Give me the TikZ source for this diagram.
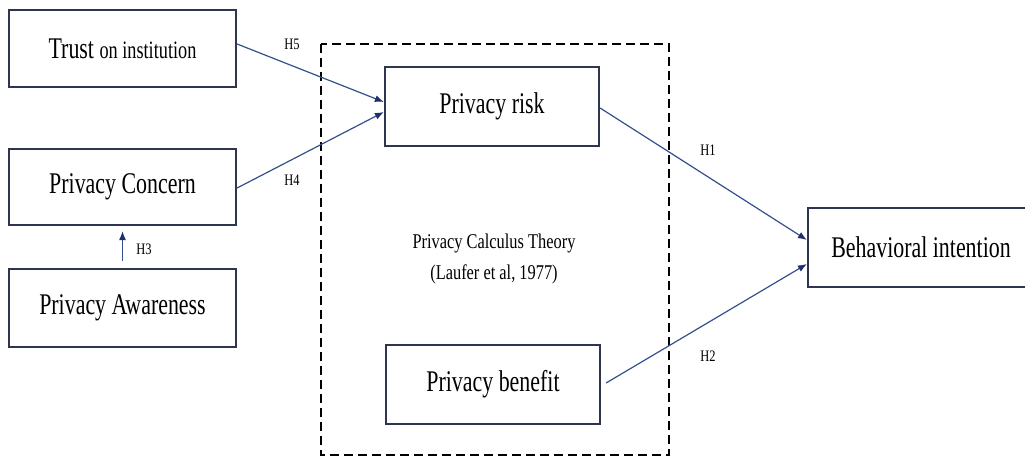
\documentclass[tikz,border=0pt]{standalone}
\usepackage{fontspec}
\setmainfont{Liberation Serif}
\newfontfamily\boxfont[FakeStretch=0.73]{Liberation Serif}
\newfontfamily\smallfont[FakeStretch=0.78]{Liberation Serif}
\usetikzlibrary{arrows.meta,calc}
\definecolor{boxline}{HTML}{2E3550}
\definecolor{arrline}{HTML}{34508C}
\definecolor{arrtip}{HTML}{1C2F6E}
\tikzset{
  conbox/.style={draw=boxline, line width=2.2pt, fill=white, inner sep=0pt,
    font=\boxfont\fontsize{30}{32}\selectfont},
  conarrow/.style={draw=arrline, line width=1.2pt,
    -{Latex[length=9pt,width=7pt,color=arrtip]}},
  hlabel/.style={font=\smallfont\fontsize{16}{18}\selectfont, inner sep=0pt},
  theorybox/.style={draw=black, line width=2.5pt, dash pattern=on 9pt off 5pt}
}
\begin{document}
\begin{tikzpicture}[x=1pt,y=-1pt]
\useasboundingbox (0,0) rectangle (1025,457);
% dashed theory frame
\draw[theorybox] (321,44) rectangle (669,455);
% boxes
\node[conbox, minimum width=227pt, minimum height=77pt] (trust) at (122.5,48.5)
  {Trust {\fontsize{25}{27}\selectfont on institution}};
\node[conbox, minimum width=227pt, minimum height=76pt] (concern) at (122.5,187) {Privacy Concern};
\node[conbox, minimum width=227pt, minimum height=78pt] (aware) at (122.5,308) {Privacy Awareness};
\node[conbox, minimum width=214pt, minimum height=79pt] (risk) at (492,106.5) {Privacy risk};
\node[conbox, minimum width=214pt, minimum height=79pt] (benefit) at (493,384.5) {Privacy benefit};
\node[conbox, minimum width=226pt, minimum height=79pt] (behav) at (921,247.5) {Behavioral intention};
% theory text
\node[font=\smallfont\fontsize{21}{31}\selectfont, align=center] (theory) at (494,259)
  {Privacy Calculus Theory\\(Laufer et al, 1977)};
% connectors
\draw[conarrow] ($(trust.east)+(0,-4.5)$) -- ($(risk.west)+(0,-4.5)$);
\draw[conarrow] ($(concern.east)+(0,1)$) -- ($(risk.west)+(0,5.5)$);
\draw[conarrow] ($(aware.north)+(0,-7)$) -- ($(concern.south)+(0,5)$);
\draw[conarrow] ($(risk.east)+(0,1.5)$) -- ($(behav.west)+(0,-7.5)$);
\draw[conarrow] ($(benefit.east)+(5,-1.5)$) -- ($(behav.west)+(0,16.5)$);
% labels
\node[hlabel] (h5) at (292,44) {H5};
\node[hlabel] (h4) at (292,180) {H4};
\node[hlabel] (h3) at (144,249) {H3};
\node[hlabel] (h1) at (708,150) {H1};
\node[hlabel] (h2) at (708,356) {H2};
\end{tikzpicture}
\end{document}
